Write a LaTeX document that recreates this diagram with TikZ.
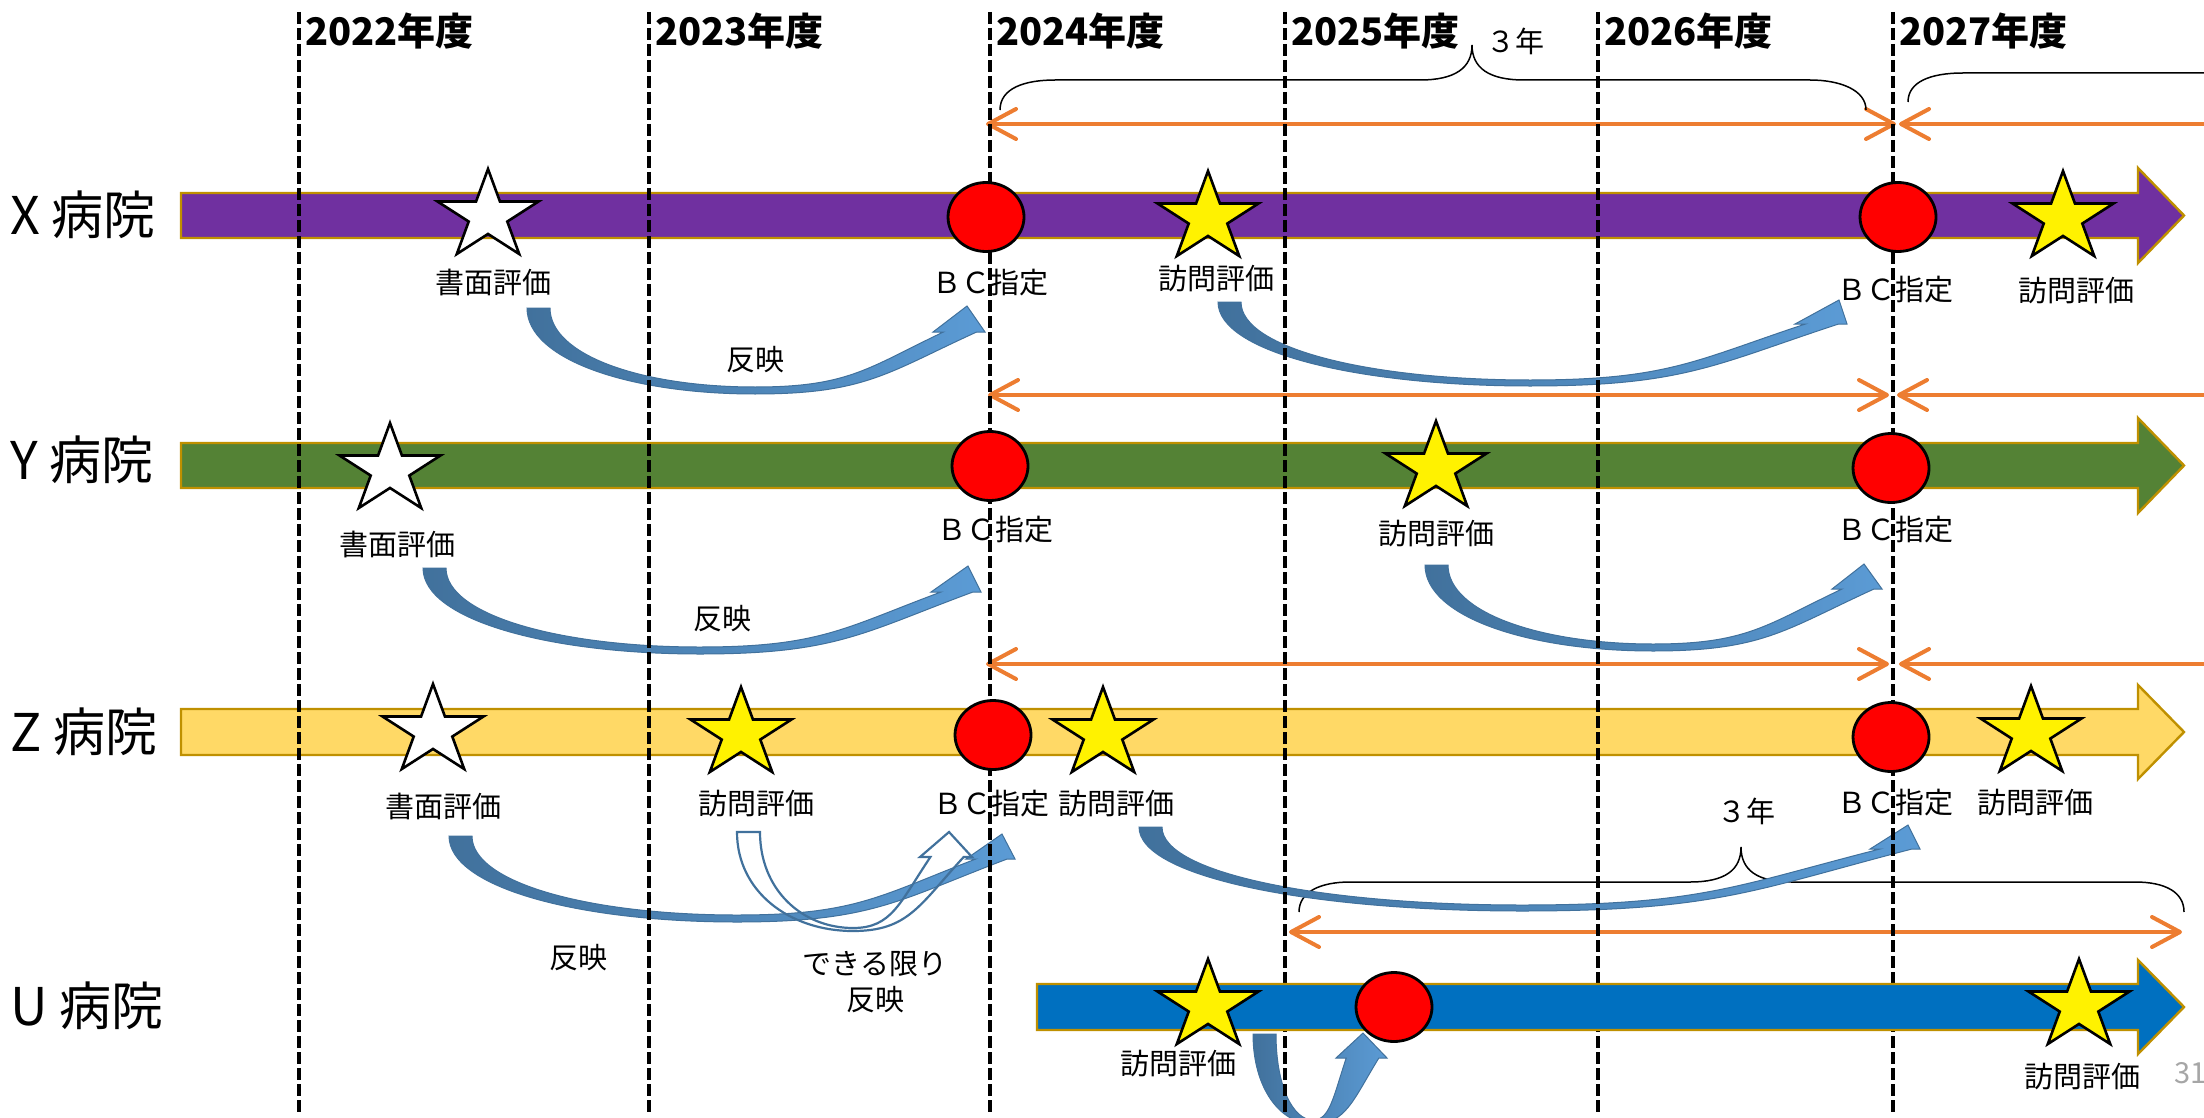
\documentclass[tikz,border=0pt]{standalone}
\usepackage{fontspec}
\setmainfont{Noto Sans CJK JP}
\usetikzlibrary{shapes.geometric,arrows.meta,calc}

\definecolor{xpurple}{HTML}{7030A0}
\definecolor{ygreen}{HTML}{548235}
\definecolor{zyellow}{HTML}{FFD966}
\definecolor{ublue}{HTML}{0070C0}
\definecolor{barrim}{HTML}{BF9000}
\definecolor{spanorange}{HTML}{ED7D31}
\definecolor{benddark}{HTML}{41719C}
\definecolor{bendlight}{HTML}{5B9BD5}
\definecolor{pagegray}{HTML}{A6A6A6}

% curved block arrow: style, start x, start y, bottom x, bottom y, tip, left wing, right wing, bottom thickness
\newcommand{\bendarrow}[9]{%
  \coordinate (bT) at (#6);
  \coordinate (bW1) at (#7);
  \coordinate (bW2) at (#8);
  \coordinate (bJ1) at ($(bW1)!0.2!(bW2)$);
  \coordinate (bJ2) at ($(bW1)!0.84!(bW2)$);
  \coordinate (bB) at (#4,#5);
  \coordinate (bBi) at (#4,{#5-#9});
  \coordinate (bP) at ($(bJ2)!0.4!(bB)$);
  \coordinate (bQ) at ($(bJ2)!0.65!(bB)$);
  \coordinate (bPi) at ($(bJ1)!0.4!(bBi)$);
  \coordinate (bQi) at ($(bJ1)!0.65!(bBi)$);
  \coordinate (bH) at ($(bB)!0.5!(bJ2)$);
  \coordinate (bHi) at ($(bBi)!0.5!(bJ1)$);
  \path[#1] (#2,#3)
    .. controls (#2,{#3+0.6*(#5-#3)}) and ({#2+0.45*(#4-#2)},#5) .. (bB)
    .. controls (bH |- bB) and (bP |- bQ) .. (bJ2)
    -- (bW2) -- (bT) -- (bW1) -- (bJ1)
    .. controls (bPi |- bQi) and (bHi |- bBi) .. (bBi)
    .. controls ({#2+23+0.45*(#4-#2-23)},{#5-#9}) and ({#2+23},{#3+0.6*(#5-#9-#3)}) .. ({#2+23},#3)
    -- cycle;
}

\begin{document}
\begin{tikzpicture}[
    x=0.5pt, y=-0.5pt,
    >={Straight Barb[length=14pt,width=15pt,round]},
    lane/.style={draw=barrim, line width=1.2pt},
    yearline/.style={line width=1.6pt, dash pattern=on 6pt off 2pt},
    yearspan/.style={draw=spanorange, line width=2pt},
    curly/.style={draw=black, line width=0.75pt},
    bendfill/.style={left color=benddark, right color=bendlight, draw=benddark, line width=0.5pt},
    bendline/.style={draw=benddark, line width=1.1pt},
    evalstar/.style={star, star points=5, star point ratio=2.618, minimum size=47pt, inner sep=0pt, draw=black, line width=1.3pt, xscale=1.13, transform shape},
    bcmark/.style={ellipse, minimum width=38pt, minimum height=34.5pt, inner sep=0pt, draw=black, fill=red, line width=1.4pt},
    year/.style={font=\fontsize{19pt}{22pt}\selectfont\bfseries, inner sep=0pt, anchor=west},
    hosp/.style={font=\fontsize{26pt}{30pt}\selectfont, inner sep=0pt, anchor=west},
    note/.style={font=\fontsize{14.5pt}{18pt}\selectfont, inner sep=0pt},
    pics/evalmark/.style={code={\node[evalstar, fill=#1] (-s) at (0,0) {};}}
]
\useasboundingbox (0,0) rectangle (2204,1118);

% hospital lanes
\draw[lane, fill=xpurple] (181,193) -- (2138,193) -- (2138,168) -- (2184,215.5) -- (2138,263) -- (2138,238) -- (181,238) -- cycle;
\draw[lane, fill=ygreen] (181,443) -- (2138,443) -- (2138,418) -- (2184,465.5) -- (2138,513) -- (2138,488) -- (181,488) -- cycle;
\draw[lane, fill=zyellow] (181,709) -- (2138,709) -- (2138,685) -- (2184,732) -- (2138,779) -- (2138,755) -- (181,755) -- cycle;

% 3-year spans
\coordinate (sx1) at (986,124);  \coordinate (sx2) at (1896,124);
\coordinate (sx3) at (1899,124); \coordinate (sx4) at (2240,124);
\coordinate (sy1) at (988,395);  \coordinate (sy2) at (1889,395);
\coordinate (sy3) at (1897,395); \coordinate (sy4) at (2240,395);
\coordinate (sz1) at (986,664);  \coordinate (sz2) at (1889,664);
\coordinate (sz3) at (1899,664); \coordinate (sz4) at (2240,664);
\coordinate (su1) at (1289,932); \coordinate (su2) at (2182,932);
\draw[yearspan, <->] (sx1) -- (sx2);
\draw[yearspan, <-] (sx3) -- (sx4);
\draw[yearspan, <->] (sy1) -- (sy2);
\draw[yearspan, <-] (sy3) -- (sy4);
\draw[yearspan, <->] (sz1) -- (sz2);
\draw[yearspan, <-] (sz3) -- (sz4);
\draw[yearspan, <->] (su1) -- (su2);

% braces
\draw[curly] (1000,110) .. controls (1000,88) and (1025,80) .. (1055,80) -- (1420,80)
    .. controls (1455,80) and (1472,68) .. (1472,45)
    .. controls (1472,68) and (1489,80) .. (1524,80) -- (1810,80)
    .. controls (1840,80) and (1866,90) .. (1866,110);
\draw[curly] (1908,102) .. controls (1908,82) and (1930,73) .. (1963,73) -- (2240,73);
\draw[curly] (1299,912) .. controls (1299,892) and (1320,882) .. (1350,882) -- (1690,882)
    .. controls (1725,882) and (1741,870) .. (1741,847)
    .. controls (1741,870) and (1757,882) .. (1792,882) -- (2135,882)
    .. controls (2165,882) and (2184,892) .. (2184,912);

% reflection arrows
\bendarrow{bendfill}{527}{308}{755}{394}{967,306}{933,332}{985,332}{7}
\bendarrow{bendfill}{1218}{302}{1530}{386}{1839,300}{1795,324}{1847,324}{6}
\bendarrow{bendfill}{423}{568}{700}{654}{968,566}{931,592}{981,592}{7}
\bendarrow{bendfill}{1425}{565}{1653}{651}{1864,564}{1832,589}{1882,589}{7}
\bendarrow{bendfill}{449}{836}{737}{922}{1002,834}{966,859}{1015,859}{7}
\bendarrow{bendline}{737}{832}{853}{931}{949,832}{920,857}{972,857}{3}
\bendarrow{bendfill}{1139}{827}{1522}{911}{1908,825}{1870,849}{1920,849}{6}
\bendarrow{bendfill}{1253}{1034}{1313}{1124}{1363,1033}{1336,1058}{1387,1058}{4}

% fiscal years
\foreach \yx/\yr in {299/2022, 649/2023, 990/2024, 1285/2025, 1598/2026, 1893/2027} {
    \draw[yearline] (\yx,12) -- (\yx,1112);
    \node[year] (fy\yr) at (\yx+6,31) {\yr{}年度};
}

\draw[lane, fill=ublue] (1037,984) -- (2138,984) -- (2138,960) -- (2184,1007) -- (2138,1054) -- (2138,1030) -- (1037,1030) -- cycle;

% hospitals
\node[hosp] (hx) at (10,215) {X 病院};
\node[hosp] (hy) at (10,460) {Y 病院};
\node[hosp] (hz) at (10,732) {Z 病院};
\node[hosp] (hu) at (10,1006) {U 病院};

% evaluations and designations
\pic (xdocstar) at (488,216) {evalmark=white};
\node[bcmark] (xbc1) at (986,217) {};
\pic (xvisitstar1) at (1208,218) {evalmark=yellow};
\node[bcmark] (xbc2) at (1898,217) {};
\pic (xvisitstar2) at (2063,218) {evalmark=yellow};

\pic (ydocstar) at (390,470) {evalmark=white};
\node[bcmark] (ybc1) at (990,466) {};
\pic (yvisitstar) at (1436,468) {evalmark=yellow};
\node[bcmark] (ybc2) at (1891,468) {};

\pic (zdocstar) at (433,731) {evalmark=white};
\pic (zvisitstar1) at (741,734) {evalmark=yellow};
\node[bcmark] (zbc1) at (993,735) {};
\pic (zvisitstar2) at (1103,734) {evalmark=yellow};
\node[bcmark] (zbc2) at (1891,737) {};
\pic (zvisitstar3) at (2031,733) {evalmark=yellow};

\pic (uvisitstar1) at (1208,1006) {evalmark=yellow};
\node[bcmark] (ubc) at (1394,1007) {};
\pic (uvisitstar2) at (2079,1006) {evalmark=yellow};

% labels
\node[note] (xdoc) at (493,282) {書面評価};
\node[note] (xbcl1) at (990,283) {ＢＣ指定};
\node[note] (xvisit1) at (1216,279) {訪問評価};
\node[note] (xbcl2) at (1895,290) {ＢＣ指定};
\node[note] (xvisit2) at (2076,291) {訪問評価};
\node[note] (xrefl) at (755,360) {反映};

\node[note] (ydoc) at (397,544) {書面評価};
\node[note] (ybcl1) at (995,530) {ＢＣ指定};
\node[note] (yvisit) at (1436,534) {訪問評価};
\node[note] (ybcl2) at (1895,530) {ＢＣ指定};
\node[note] (yrefl) at (722,619) {反映};

\node[note] (zdoc) at (443,806) {書面評価};
\node[note] (zvisit1) at (756,804) {訪問評価};
\node[note] (zbcl1) at (991,804) {ＢＣ指定};
\node[note] (zvisit2) at (1116,804) {訪問評価};
\node[note] (zbcl2) at (1895,803) {ＢＣ指定};
\node[note] (zvisit3) at (2035,803) {訪問評価};
\node[note] (zrefl) at (578,958) {反映};
\node[note, align=center] (zpartial) at (875,982) {できる限り\\反映};

\node[note] (uvisit1) at (1178,1064) {訪問評価};
\node[note] (uvisit2) at (2082,1077) {訪問評価};

\node[note] (span1) at (1515,41) {３年};
\node[note] (span2) at (1746,811) {３年};
\node[note, anchor=west, text=pagegray] (pageno) at (2174,1073) {31};
\end{tikzpicture}
\end{document}
